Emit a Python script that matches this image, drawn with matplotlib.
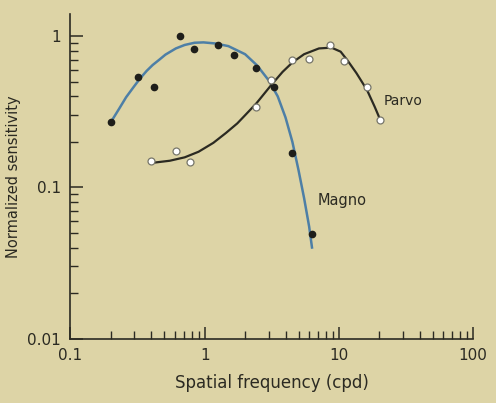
import matplotlib
matplotlib.use('Agg')
import matplotlib.pyplot as plt
from matplotlib.ticker import LogLocator, NullFormatter, FixedLocator, FixedFormatter

# Magno (filled dots) and Parvo (open dots)
magno_x = [0.2, 0.32, 0.42, 0.65, 0.83, 1.26, 1.66, 2.43, 3.3, 4.5, 6.3]
magno_y = [0.27, 0.54, 0.46, 1.0, 0.82, 0.87, 0.75, 0.62, 0.46, 0.17, 0.049]
parvo_x = [0.4, 0.61, 0.78, 2.43, 3.1, 4.5, 6.0, 8.6, 10.9, 16.1, 20.3]
parvo_y = [0.149, 0.174, 0.147, 0.34, 0.51, 0.70, 0.71, 0.87, 0.69, 0.46, 0.28]

# fitted curves
magno_cx = [0.2, 0.23, 0.26, 0.295, 0.33, 0.37, 0.41, 0.46, 0.51, 0.61, 0.71, 0.84,
            0.98, 1.2, 1.5, 2.0, 2.46, 3.0, 3.5, 4.0, 4.5, 5.0, 5.5, 6.0, 6.3]
magno_cy = [0.27, 0.33, 0.395, 0.46, 0.525, 0.59, 0.645, 0.70, 0.755, 0.83, 0.875, 0.905,
            0.91, 0.895, 0.86, 0.76, 0.64, 0.51, 0.40, 0.29, 0.20, 0.13, 0.085, 0.055, 0.04]
parvo_cx = [0.4, 0.55, 0.71, 0.9, 1.16, 1.44, 1.75, 2.0, 2.43, 3.1, 3.8, 4.5, 5.5,
            7.1, 8.8, 10.3, 11.6, 13.5, 16.2, 18.5, 20.3]
parvo_cy = [0.145, 0.15, 0.158, 0.172, 0.197, 0.229, 0.265, 0.30, 0.36, 0.47, 0.58,
            0.67, 0.76, 0.83, 0.84, 0.79, 0.69, 0.57, 0.44, 0.34, 0.28]

xticks = [0.1, 1, 10, 100]
xticklabels = ['0.1', '1', '10', '100']
yticks = [0.01, 0.1, 1]
yticklabels = ['0.01', '0.1', '1']

bg = '#ddd4a6'
ink = '#2b2a22'

fig = plt.figure(figsize=(4.96, 4.03), dpi=100, facecolor=bg)
ax = fig.add_axes([0.142, 0.16, 0.812, 0.805], facecolor=bg)

ax.plot(magno_cx, magno_cy, color='#4d7fa6', lw=1.8, zorder=2)
ax.plot(parvo_cx, parvo_cy, color=ink, lw=1.6, zorder=2)
ax.plot(magno_x, magno_y, 'o', ms=4.5, color='#1e1e1a', zorder=3)
ax.plot(parvo_x, parvo_y, 'o', ms=5, mfc='white', mec='#77766a', mew=0.9, zorder=3)

ax.set_xscale('log')
ax.set_yscale('log')
ax.set_xlim(0.1, 100)
ax.set_ylim(0.01, 1.4)

for s in ('top', 'right'):
    ax.spines[s].set_visible(False)
for s in ('left', 'bottom'):
    ax.spines[s].set_color(ink)
    ax.spines[s].set_linewidth(1.2)

ax.xaxis.set_major_locator(FixedLocator(xticks))
ax.xaxis.set_major_formatter(FixedFormatter(xticklabels))
ax.yaxis.set_major_locator(FixedLocator(yticks))
ax.yaxis.set_major_formatter(FixedFormatter(yticklabels))
ax.xaxis.set_minor_locator(LogLocator(base=10, subs=range(2, 10)))
ax.yaxis.set_minor_locator(LogLocator(base=10, subs=range(2, 10)))
ax.xaxis.set_minor_formatter(NullFormatter())
ax.yaxis.set_minor_formatter(NullFormatter())
ax.tick_params(which='major', direction='in', length=9, width=1.1, color=ink,
               labelsize=11, labelcolor=ink, pad=7)
ax.tick_params(which='minor', direction='in', length=6, width=1.0, color=ink)

ax.set_xlabel('Spatial frequency (cpd)', fontsize=12, color=ink, labelpad=8)
ax.set_ylabel('Normalized sensitivity', fontsize=10.5, color=ink, labelpad=4)

ax.text(6.9, 0.082, 'Magno', fontsize=10.5, color=ink, va='center', ha='left')
ax.text(21.5, 0.37, 'Parvo', fontsize=10, color=ink, va='center', ha='left')

fig.savefig('out.png', dpi=100, facecolor=bg)
